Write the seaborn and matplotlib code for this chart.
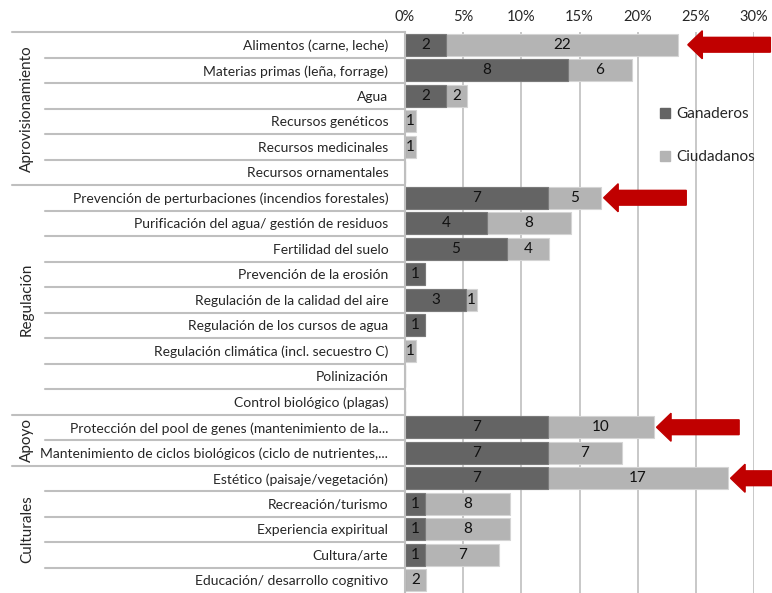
import numpy as np
import pandas as pd
import matplotlib.pyplot as plt
import seaborn as sns
from matplotlib.patches import Patch

# Datos: número de menciones por servicio ecosistémico
servicios = ['Alimentos (carne, leche)', 'Materias primas (leña, forrage)', 'Agua',
             'Recursos genéticos', 'Recursos medicinales', 'Recursos ornamentales',
             'Prevención de perturbaciones (incendios forestales)',
             'Purificación del agua/ gestión de residuos', 'Fertilidad del suelo',
             'Prevención de la erosión', 'Regulación de la calidad del aire',
             'Regulación de los cursos de agua', 'Regulación climática (incl. secuestro C)',
             'Polinización', 'Control biológico (plagas)',
             'Protección del pool de genes (mantenimiento de la...',
             'Mantenimiento de ciclos biológicos (ciclo de nutrientes,...',
             'Estético (paisaje/vegetación)', 'Recreación/turismo', 'Experiencia expiritual',
             'Cultura/arte', 'Educación/ desarrollo cognitivo']
ganaderos = [2, 8, 2, 0, 0, 0, 7, 4, 5, 1, 3, 1, 0, 0, 0, 7, 7, 7, 1, 1, 1, 0]
ciudadanos = [22, 6, 2, 1, 1, 0, 5, 8, 4, 0, 1, 0, 1, 0, 0, 10, 7, 17, 8, 8, 7, 2]
n_ganaderos = 57
n_ciudadanos = 110
grupos = ['Aprovisionamiento', 'Regulación', 'Apoyo', 'Culturales']
filas_por_grupo = [6, 9, 2, 5]
destacados = ['Alimentos (carne, leche)', 'Prevención de perturbaciones (incendios forestales)',
              'Protección del pool de genes (mantenimiento de la...',
              'Estético (paisaje/vegetación)']

df = pd.DataFrame({'servicio': servicios, 'gan': ganaderos, 'ciu': ciudadanos})
df['gan_pct'] = df['gan'] / n_ganaderos * 100
df['ciu_pct'] = df['ciu'] / n_ciudadanos * 100
df['total'] = df['gan_pct'] + df['ciu_pct']

sns.set_style('white')
plt.rcParams['font.family'] = ['Lato', 'DejaVu Sans']

oscuro = '#646464'
claro = '#b4b4b4'
rojo = '#c00000'
linea = '#bfbfbf'

fig = plt.figure(figsize=(7.72, 5.93), dpi=100)
ax = fig.add_axes([405 / 772, 0.0, 349 / 772, 1 - 32 / 593])

sns.barplot(data=df, y='servicio', x='total', color=claro, orient='h', width=0.86,
            errorbar=None, edgecolor='#d4d4d4', linewidth=0.8, saturation=1, ax=ax)
sns.barplot(data=df, y='servicio', x='gan_pct', color=oscuro, orient='h', width=0.86,
            errorbar=None, edgecolor='#7a7a7a', linewidth=0.8, saturation=1, ax=ax)

# etiquetas de conteo dentro de cada segmento
for i, r in df.iterrows():
    if r['gan'] > 0:
        ax.text(r['gan_pct'] / 2, i, str(r['gan']), ha='center', va='center', fontsize=11, color='#111111')
    if r['ciu'] > 0:
        ax.text(r['gan_pct'] + r['ciu_pct'] / 2, i, str(r['ciu']), ha='center', va='center',
                fontsize=11, color='#111111')

ax.set_xlim(0, 30)
ax.set_ylim(len(servicios) - 0.5, -0.5)
ax.set_xticks(np.arange(0, 31, 5))
ax.set_xticklabels([f'{v}%' for v in range(0, 31, 5)])
ax.xaxis.tick_top()
ax.tick_params(axis='x', length=0, pad=6, labelsize=10.5)
ax.tick_params(axis='y', length=0, pad=12, labelsize=10)
ax.set_xlabel('')
ax.set_ylabel('')
ax.grid(axis='x', color=linea, linewidth=1.2)
ax.set_axisbelow(True)
for s in ['top', 'right', 'bottom']:
    ax.spines[s].set_visible(False)
ax.spines['left'].set_color(linea)
ax.spines['left'].set_linewidth(1.5)

# líneas de la tabla a la izquierda
tr = ax.get_yaxis_transform()
x_col = (45 - 405) / 349
x_grp = (12 - 405) / 349
limites = np.cumsum([0] + filas_por_grupo)
for b in range(len(servicios)):
    x0 = x_grp if b in limites else x_col
    ax.plot([x0, 0], [b - 0.5, b - 0.5], transform=tr, color=linea, lw=1.5, clip_on=False)

for g, a, b in zip(grupos, limites[:-1], limites[1:]):
    ax.text((27 - 405) / 349, (a + b - 1) / 2, g, transform=tr, rotation=90,
            ha='center', va='center', fontsize=11)

# flechas rojas
for s in destacados:
    i = servicios.index(s)
    tip = df.loc[i, 'total'] + (0.8 if i == 0 else 0.25)
    ax.arrow(tip + 7.1, i, -7.1, 0, width=0.58, head_width=1.1, head_length=1.25,
             length_includes_head=True, color=rojo, clip_on=False, zorder=5)

handles = [Patch(color=oscuro, label='Ganaderos'), Patch(color=claro, label='Ciudadanos')]
ax.legend(handles=handles, loc='upper left', bbox_to_anchor=(0.69, 0.89), frameon=False,
          fontsize=11, labelspacing=1.9, handlelength=0.7, handleheight=0.7, handletextpad=0.4)

fig.savefig('out.png', dpi=100)
